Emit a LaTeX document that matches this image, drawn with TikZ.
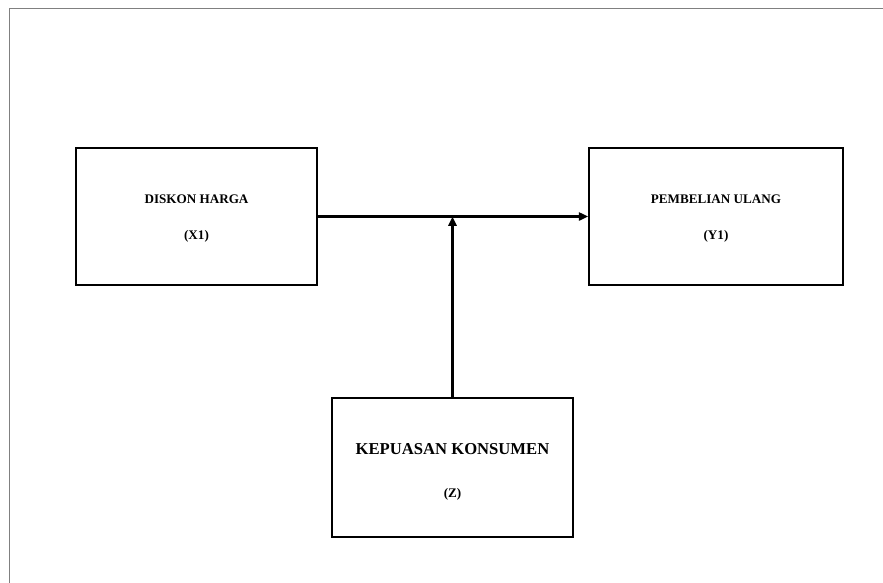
\documentclass[tikz,border=0pt]{standalone}
\usepackage{fontspec}
\setmainfont{Liberation Serif}
\usetikzlibrary{arrows.meta}

\begin{document}
\begin{tikzpicture}[x=0.03cm,y=-0.03cm,
  varbox/.style={draw=black, line width=1.5pt, inner sep=0pt},
  varteks/.style={align=center, inner sep=0pt, font=\bfseries\fontsize{11.2}{13}\selectfont},
  panah/.style={line width=2pt, -{Triangle[length=8pt,width=7pt]}}]
\useasboundingbox (0,0) rectangle (883,583);
\draw[gray, line width=1.6pt] (9.5,583) -- (9.5,8.5) -- (883,8.5);

\node[varbox, minimum width=241*0.03cm, minimum height=137*0.03cm] (diskon) at (196.5,216.5) {};
\node[varbox, minimum width=254*0.03cm, minimum height=137*0.03cm] (pembelian) at (716,216.5) {};
\node[varbox, minimum width=241*0.03cm, minimum height=139*0.03cm] (kepuasan) at (452.5,467.5) {};

\node[varteks] (diskonteks) at (196.5,218.5) {DISKON HARGA\\[17.5pt](X1)};
\node[varteks] (pembelianteks) at (716,218.5) {PEMBELIAN ULANG\\[17.5pt](Y1)};
\node[varteks] (kepuasanteks) at (452.5,472) {{\fontsize{14.2}{16}\selectfont KEPUASAN KONSUMEN}\\[23.5pt](Z)};

\coordinate (temu) at (kepuasan.north |- diskon.east);
\draw[panah] (diskon.east) -- (pembelian.west);
\draw[panah] (kepuasan.north) -- (temu);
\end{tikzpicture}
\end{document}
